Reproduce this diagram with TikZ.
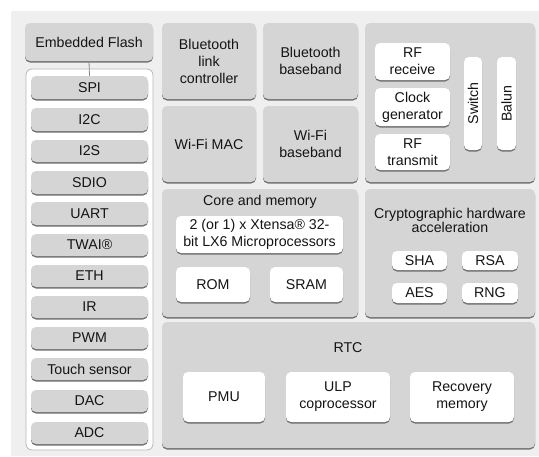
\documentclass[tikz,border=0pt]{standalone}
\usepackage{fontspec}
\setmainfont{Liberation Sans}
\usetikzlibrary{shadows}

\definecolor{bgcol}{HTML}{EFEFEF}
\definecolor{boxgray}{HTML}{D5D5D5}
\definecolor{shd}{HTML}{707070}
\definecolor{rimgray}{HTML}{B8B8B8}
\definecolor{txt}{HTML}{141414}
\definecolor{wire}{HTML}{8A8A8A}

\newcommand\lbl{\fontsize{14.2}{17}\selectfont}
\newcommand\lbltight{\fontsize{14.2}{14}\selectfont}

% block: style, name, left, top, right, bottom (pixel-like units, y down), text
\newcommand\blk[7]{%
  \node[#1, minimum width={(#5-#3)*1pt}, minimum height={(#6-#4)*1pt}]
    (#2) at ({(#3+#5)/2},{-(#4+#6)/2}) {#7};}

\tikzset{
  base/.style={rounded corners=5pt, inner sep=0pt, align=center,
    text=txt, font=\lbl,
    drop shadow={shadow xshift=0pt, shadow yshift=-1.5pt, fill=shd, opacity=1}},
  gbox/.style={base, fill=boxgray},
  wbox/.style={base, fill=white},
  holder/.style={rounded corners=6pt, fill=white, draw=rimgray, line width=0.8pt},
  title/.style={inner sep=0pt, align=center, text=txt, font=\lbl},
  link/.style={draw=wire, line width=0.8pt}
}

\begin{document}
\begin{tikzpicture}[x=1pt,y=1pt]
\useasboundingbox (0,0) rectangle (539,-456);
\fill[white] (0,0) rectangle (539,-456);
\fill[bgcol] (11,-11) rectangle (539,-456);

% flash and peripheral column
\blk{gbox}{flash}{25}{23}{153}{61}{Embedded Flash}
\blk{holder}{periph}{26}{69}{153}{450}{}
\blk{gbox}{spi}{31}{76}{148}{99}{SPI}
\blk{gbox}{i2c}{31}{108}{148}{131}{I2C}
\blk{gbox}{i2s}{31}{140}{148}{162}{I2S}
\blk{gbox}{sdio}{31}{171}{148}{194}{SDIO}
\blk{gbox}{uart}{31}{202}{148}{225}{UART}
\blk{gbox}{twai}{31}{234}{148}{256}{TWAI®}
\blk{gbox}{eth}{31}{265}{148}{287}{ETH}
\blk{gbox}{ir}{31}{296}{148}{318}{IR}
\blk{gbox}{pwm}{31}{327}{148}{349}{PWM}
\blk{gbox}{touch}{31}{358}{148}{380}{Touch sensor}
\blk{gbox}{dac}{31}{390}{148}{412}{DAC}
\blk{gbox}{adc}{31}{422}{148}{444}{ADC}
\draw[link] (flash.south) -- (spi.north);

% wireless blocks
\blk{gbox}{btlc}{162}{23}{256}{99}{Bluetooth\\link\\controller}
\blk{gbox}{btbb}{263}{23}{358}{99}{Bluetooth\\baseband}
\blk{gbox}{wmac}{162}{106}{256}{182}{Wi-Fi MAC}
\blk{gbox}{wbb}{263}{106}{358}{182}{Wi-Fi\\baseband}

% radio panel
\blk{gbox}{radio}{365}{23}{535}{182}{}
\blk{wbox}{rfrx}{375}{43}{450}{80}{RF\\receive}
\blk{wbox}{clk}{375}{88}{450}{126}{Clock\\generator}
\blk{wbox}{rftx}{375}{134}{450}{170}{RF\\transmit}
\blk{wbox}{sw}{464}{57}{482}{150}{}
\blk{wbox}{balun}{497}{57}{516}{150}{}
\node[title, rotate=90] (swtxt) at (sw) {Switch};
\node[title, rotate=90] (baluntxt) at (balun) {Balun};

% core and memory
\blk{gbox}{core}{162}{189}{358}{317}{}
\node[title] (coretitle) at (260,-202) {Core and memory};
\blk{wbox}{cpu}{176}{216}{343}{253}{2 (or 1) x Xtensa® 32-\\bit LX6 Microprocessors}
\blk{wbox}{rom}{176}{267}{250}{302}{ROM}
\blk{wbox}{sram}{270}{267}{343}{302}{SRAM}

% crypto
\blk{gbox}{crypto}{365}{189}{535}{317}{}
\node[title, font=\lbltight] (cryptotitle) at (450,-220) {Cryptographic hardware\\acceleration};
\blk{wbox}{sha}{392}{251}{447}{270}{SHA}
\blk{wbox}{rsa}{462}{251}{518}{270}{RSA}
\blk{wbox}{aes}{392}{283}{447}{303}{AES}
\blk{wbox}{rng}{462}{283}{518}{303}{RNG}

% RTC
\blk{gbox}{rtc}{162}{322}{535}{448}{}
\node[title] (rtctitle) at (348,-348) {RTC};
\blk{wbox}{pmu}{183}{372}{265}{422}{PMU}
\blk{wbox}{ulp}{286}{372}{390}{422}{ULP\\coprocessor}
\blk{wbox}{recov}{410}{372}{514}{422}{Recovery\\memory}
\end{tikzpicture}
\end{document}
